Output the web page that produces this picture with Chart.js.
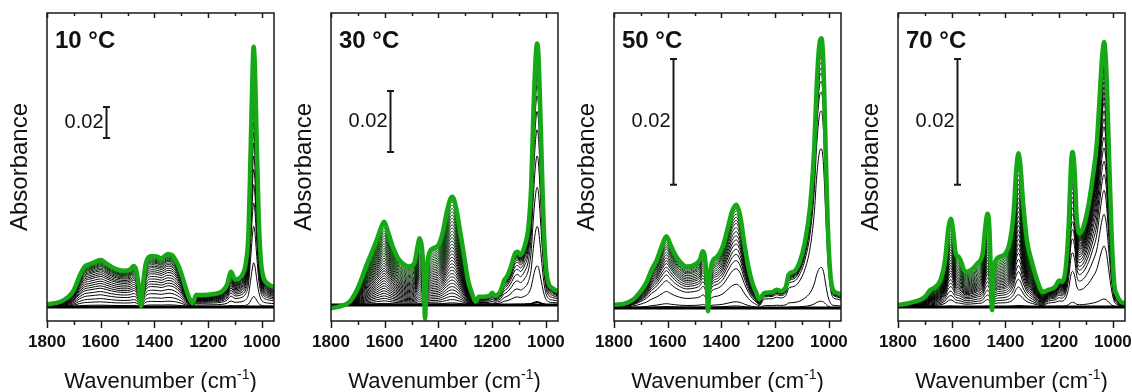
<!DOCTYPE html>
<html>
<head>
<meta charset="utf-8">
<script src="https://cdn.jsdelivr.net/npm/chart.js@4.4.0/dist/chart.umd.min.js"></script>
<style>
  body { margin: 0; background: #fff; width: 1132px; height: 392px; overflow: hidden; position: relative; }
  .panel { position: absolute; top: 0; width: 284px; height: 392px; }
</style>
</head>
<body>
<div class="panel" style="left:0px"><canvas id="c10"></canvas></div>
<div class="panel" style="left:284px"><canvas id="c30"></canvas></div>
<div class="panel" style="left:567px"><canvas id="c50"></canvas></div>
<div class="panel" style="left:851px"><canvas id="c70"></canvas></div>
<script>
// axis ticks and labels
const xTicks = [1800, 1600, 1400, 1200, 1000];
const xMinorTicks = [1800, 1700, 1600, 1500, 1400, 1300, 1200, 1100, 1000];
const temps = ['10 °C', '30 °C', '50 °C', '70 °C'];
const scaleBar = 0.02;
const splitWn = 1258; // below this the 1030 band family grows with its own levels

// 10 °C : final (green) spectrum, absorbance
const wn10 = [1800,1750,1720,1700,1680,1660,1640,1620,1600,1580,1560,1540,1510,1490,1478,1468,1460,1450,1442,1432,1410,1390,1375,1350,1335,1315,1300,1285,1270,1258,1245,1220,1180,1150,1130,1115,1100,1085,1070,1060,1050,1042,1036,1031,1026,1020,1012,1004,995,980,965,955];
const abs10 = [0.0017,0.0034,0.0067,0.011,0.0196,0.026,0.0277,0.0292,0.0303,0.0282,0.026,0.0243,0.0234,0.0243,0.0264,0.0239,0.0153,0.0006,0.0153,0.0282,0.0329,0.0325,0.0314,0.0342,0.0335,0.0282,0.0217,0.0131,0.0056,0.0024,0.0077,0.0077,0.0084,0.0099,0.0142,0.0228,0.0178,0.0185,0.0217,0.0282,0.0475,0.1013,0.1443,0.1679,0.155,0.112,0.0583,0.0303,0.0196,0.0153,0.0135,0.0131];
// fraction of the final spectrum reached by each earlier spectrum
const bandLv10 = [0,0.04,0.11,0.18,0.26,0.33,0.40,0.45,0.50,0.55,0.60,0.65,0.69,0.73,0.77,0.80,0.83,0.86,0.88,0.90,0.92,0.94,0.96,0.97,0.98,0.99];
const peakLv10 = [0,0,0.04,0.17,0.31,0.40,0.47,0.53,0.58,0.63,0.67,0.71,0.75,0.78,0.81,0.84,0.87,0.89,0.91,0.93,0.95,0.96,0.97,0.98,0.99,1.0];

// 30 °C
const wn30 = [1800,1760,1730,1710,1690,1670,1650,1630,1610,1602,1590,1570,1550,1530,1510,1490,1478,1470,1462,1455,1450,1445,1438,1420,1400,1385,1370,1355,1348,1335,1320,1305,1290,1275,1262,1250,1230,1210,1200,1190,1170,1155,1145,1130,1115,1105,1095,1080,1065,1055,1047,1040,1033,1028,1022,1015,1008,1000,990,975,955];
const abs30 = [-0.0011,-0.0003,0.0011,0.0038,0.0077,0.0126,0.0169,0.0213,0.0262,0.0273,0.0246,0.0191,0.0153,0.0134,0.0126,0.0137,0.0191,0.0219,0.0191,0.0104,-0.0044,0.0071,0.0158,0.0186,0.0197,0.0235,0.0301,0.035,0.0355,0.0322,0.0246,0.0164,0.0082,0.0038,0.0011,0.0027,0.0027,0.003,0.004,0.003,0.0044,0.0082,0.0093,0.0126,0.0169,0.0175,0.0164,0.0191,0.0257,0.0388,0.0618,0.0781,0.0858,0.0825,0.0672,0.0454,0.0257,0.0126,0.0071,0.0055,0.0044];
const bandLv30 = [0,0.02,0.05,0.08,0.11,0.14,0.17,0.2,0.23,0.26,0.29,0.32,0.35,0.38,0.41,0.44,0.47,0.5,0.53,0.56,0.59,0.62,0.65,0.68,0.71,0.74,0.77,0.8,0.83,0.86,0.89,0.92,0.95,0.98];
const peakLv30 = [0,0,0,0.01,0.01,0.01,0.013,0.15,0.30,0.45,0.57,0.67,0.74,0.80,0.84,0.87,0.89,0.91,0.92,0.93,0.94,0.95,0.955,0.96,0.965,0.97,0.975,0.98,0.985,0.99,0.99,0.995,0.995,1.0];

// 50 °C
const wn50 = [1800,1760,1730,1700,1680,1660,1640,1620,1605,1590,1575,1555,1530,1500,1480,1470,1462,1455,1450,1444,1435,1415,1395,1375,1360,1345,1330,1315,1300,1285,1270,1260,1240,1210,1195,1180,1160,1150,1130,1110,1090,1070,1055,1045,1035,1028,1020,1012,1004,995,985,970,955];
const abs50 = [0.0005,0.0007,0.0013,0.0027,0.004,0.0061,0.0077,0.0101,0.0114,0.0101,0.0087,0.0074,0.0066,0.0069,0.0077,0.009,0.0082,0.0045,-0.0005,0.0045,0.0072,0.0082,0.0098,0.013,0.0154,0.0164,0.0146,0.0103,0.0066,0.004,0.0024,0.0014,0.0024,0.0025,0.0029,0.0027,0.0034,0.0053,0.0058,0.0072,0.0103,0.0162,0.0252,0.0358,0.0421,0.0429,0.0384,0.0252,0.013,0.0056,0.0029,0.0024,0.0021];
const bandLv50 = [0,0.02,0.06,0.23,0.38,0.46,0.52,0.57,0.62,0.66,0.70,0.74,0.78,0.82,0.85,0.88,0.91,0.94,0.96,0.98];
const peakLv50 = [0,0.025,0.15,0.59,0.73,0.80,0.84,0.87,0.89,0.91,0.93,0.94,0.95,0.96,0.97,0.975,0.98,0.985,0.99,0.995];

// 70 °C
const wn70 = [1800,1760,1720,1700,1680,1660,1640,1625,1612,1603,1595,1585,1575,1565,1550,1530,1505,1485,1475,1467,1460,1455,1450,1446,1440,1420,1400,1385,1370,1360,1352,1345,1335,1320,1300,1280,1262,1240,1215,1200,1190,1175,1165,1155,1150,1142,1135,1125,1110,1090,1075,1060,1050,1040,1033,1025,1015,1005,995,985,970,955];
const abs70 = [0.0003,0.0006,0.0011,0.0016,0.0027,0.0032,0.0045,0.0074,0.0127,0.014,0.0122,0.0085,0.008,0.0072,0.0056,0.0058,0.0069,0.0085,0.0127,0.0148,0.0127,0.0064,-0.0005,0.0032,0.0069,0.008,0.0085,0.0101,0.0148,0.0217,0.0244,0.0228,0.017,0.0106,0.0069,0.004,0.0024,0.0027,0.0032,0.0042,0.004,0.0064,0.0127,0.0233,0.0246,0.0212,0.0143,0.0117,0.0127,0.0164,0.0207,0.026,0.0329,0.0398,0.0421,0.0382,0.0249,0.0117,0.0037,0.0019,0.0008,0.0006];
const bandLv70 = [0,0.01,0.08,0.13,0.18,0.23,0.27,0.31,0.35,0.38,0.41,0.44,0.47,0.5,0.53,0.56,0.59,0.62,0.65,0.68,0.71,0.74,0.77,0.8,0.83,0.86,0.89,0.92,0.95,0.98];
const peakLv70 = [0,0.03,0.23,0.35,0.44,0.5,0.55,0.6,0.64,0.68,0.71,0.74,0.77,0.79,0.81,0.83,0.85,0.87,0.89,0.9,0.91,0.92,0.93,0.94,0.95,0.96,0.97,0.98,0.985,0.99];

const FONT = '"Liberation Sans", Arial, sans-serif';

const panels = [
  { id: 'c10', label: temps[0], wn: wn10, fin: abs10, band: bandLv10, peak: peakLv10, yMin: -0.00903, yMax: 0.1897, barLow: 0.109 },
  { id: 'c30', label: temps[1], wn: wn30, fin: abs30, band: bandLv30, peak: peakLv30, yMin: -0.00525, yMax: 0.0958, barLow: 0.0502 },
  { id: 'c50', label: temps[2], wn: wn50, fin: abs50, band: bandLv50, peak: peakLv50, yMin: -0.00207, yMax: 0.0469, barLow: 0.0196 },
  { id: 'c70', label: temps[3], wn: wn70, fin: abs70, band: bandLv70, peak: peakLv70, yMin: -0.00223, yMax: 0.0467, barLow: 0.0194 }
];

// frame, ticks, scale bar, panel label and x title
const framePlugin = {
  id: 'frame',
  afterDatasetsDraw(chart, args, opts) {
    const { ctx, chartArea: a, scales: { x, y } } = chart;
    ctx.save();
    ctx.strokeStyle = '#1a1a1a';
    ctx.fillStyle = '#111';
    ctx.lineWidth = 1.5;
    ctx.strokeRect(a.left, a.top, a.right - a.left, a.bottom - a.top);
    xMinorTicks.forEach(v => {
      const px = Math.round(x.getPixelForValue(v)) + 0.5;
      const major = xTicks.includes(v);
      ctx.beginPath();
      ctx.moveTo(px, a.bottom);
      ctx.lineTo(px, a.bottom + (major ? 7 : 4));
      ctx.moveTo(px, a.top);
      ctx.lineTo(px, a.top + (major ? 5 : 3));
      ctx.stroke();
    });

    // scale bar
    const bx = Math.round(x.getPixelForValue(1580)) + 0.5;
    const y0 = y.getPixelForValue(opts.barLow);
    const y1 = y.getPixelForValue(opts.barLow + scaleBar);
    ctx.lineWidth = 2;
    ctx.beginPath();
    ctx.moveTo(bx, y0); ctx.lineTo(bx, y1);
    ctx.moveTo(bx - 3.5, y0); ctx.lineTo(bx + 3.5, y0);
    ctx.moveTo(bx - 3.5, y1); ctx.lineTo(bx + 3.5, y1);
    ctx.stroke();
    ctx.font = '20px ' + FONT;
    ctx.textAlign = 'right';
    ctx.textBaseline = 'middle';
    ctx.fillText(scaleBar.toFixed(2), bx - 3, (y0 + y1) / 2);

    // temperature label
    ctx.font = 'bold 24px ' + FONT;
    ctx.textAlign = 'left';
    ctx.textBaseline = 'alphabetic';
    ctx.fillText(opts.label, a.left + 8, a.top + 35);

    // x title with superscript
    const main = 'Wavenumber (cm', sup = '-1', close = ')';
    ctx.font = '22px ' + FONT;
    const w1 = ctx.measureText(main).width, w3 = ctx.measureText(close).width;
    ctx.font = '14px ' + FONT;
    const w2 = ctx.measureText(sup).width;
    let tx = (a.left + a.right) / 2 - (w1 + w2 + w3) / 2;
    const ty = 388;
    ctx.font = '22px ' + FONT;
    ctx.fillText(main, tx, ty);
    tx += w1;
    ctx.font = '14px ' + FONT;
    ctx.fillText(sup, tx, ty - 9);
    tx += w2;
    ctx.font = '22px ' + FONT;
    ctx.fillText(close, tx, ty);
    ctx.restore();
  }
};

function buildDatasets(p) {
  const sets = [];
  // final spectrum on top
  sets.push({
    data: p.wn.map((w, j) => ({ x: w, y: p.fin[j] })),
    borderColor: '#17a817',
    borderWidth: 4.5
  });
  const n = p.band.length;
  for (let i = n - 1; i >= 0; i--) {
    const t = i / n;
    const g = t < 0.45 ? 0 : Math.round((t - 0.45) / 0.55 * 100);
    sets.push({
      data: p.wn.map((w, j) => ({ x: w, y: p.fin[j] * (w < splitWn ? p.peak[i] : p.band[i]) })),
      borderColor: 'rgb(0,' + g + ',0)',
      borderWidth: i === 0 ? 3 : 1
    });
  }
  return sets;
}

panels.forEach(p => {
  new Chart(document.getElementById(p.id), {
    type: 'line',
    data: { datasets: buildDatasets(p) },
    options: {
      animation: false,
      responsive: true,
      maintainAspectRatio: false,
      layout: { padding: { top: 13, right: 10, left: 0, bottom: 0 } },
      elements: {
        point: { radius: 0 },
        line: { cubicInterpolationMode: 'monotone' }
      },
      plugins: {
        legend: { display: false },
        tooltip: { enabled: false },
        frame: { label: p.label, barLow: p.barLow }
      },
      scales: {
        x: {
          type: 'linear',
          reverse: true,
          min: 955,
          max: 1800,
          grid: { display: false, drawTicks: false },
          border: { display: false },
          afterBuildTicks: s => { s.ticks = xTicks.map(v => ({ value: v })); },
          afterFit: s => { s.height = 71; s.paddingLeft = 0; s.paddingRight = 0; },
          ticks: {
            autoSkip: false,
            maxRotation: 0,
            padding: 11,
            color: '#111',
            font: { family: FONT, size: 17, weight: 'bold' },
            callback: v => String(v)
          }
        },
        y: {
          min: p.yMin,
          max: p.yMax,
          grid: { display: false, drawTicks: false },
          border: { display: false },
          ticks: { display: false },
          afterFit: s => { s.width = 47; },
          title: {
            display: true,
            text: 'Absorbance',
            color: '#111',
            font: { family: FONT, size: 24 },
            padding: { top: 6, bottom: 0 }
          }
        }
      }
    },
    plugins: [framePlugin]
  });
});
</script>
</body>
</html>
